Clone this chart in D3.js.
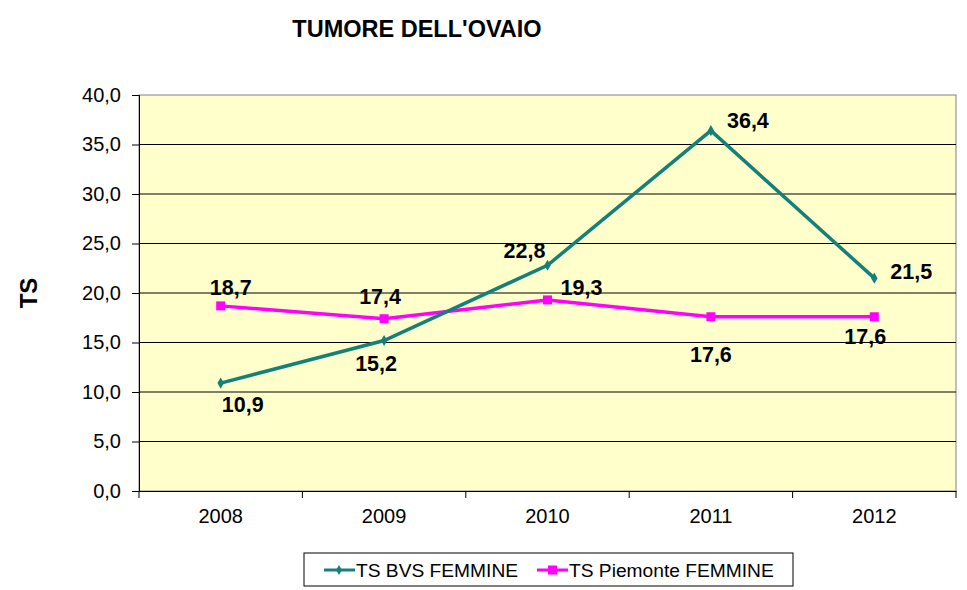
<!DOCTYPE html>
<html>
<head>
<meta charset="utf-8">
<script src="https://cdn.jsdelivr.net/npm/d3@7"></script>
<style>
  body { margin: 0; background: #fff; }
  text { font-family: Arial, "Liberation Sans", sans-serif; }
</style>
</head>
<body>
<svg width="967" height="590"></svg>
<script>
var years = ['2008', '2009', '2010', '2011', '2012'];
var bvs = [10.9, 15.2, 22.8, 36.4, 21.5];
var piemonte = [18.7, 17.4, 19.3, 17.6, 17.6];
var yTicks = [0, 5, 10, 15, 20, 25, 30, 35, 40];

// label offsets (dx, dy baseline) relative to each point, as in the original
var bvsOffsets = [[22, 29], [-8, 30], [-23, -7], [37, -3], [37, 1]];
var pieOffsets = [[10, -11], [-4, -15], [34, -5], [0, 45], [-9, 27]];

var svg = d3.select('svg');
var plotL = 139, plotR = 956, plotT = 95, plotB = 491;

var x = d3.scaleBand().domain(years).range([plotL, plotR]);
var y = d3.scaleLinear().domain([0, 40]).range([plotB, plotT]);
var fmt = function(v) { return v.toFixed(1).replace('.', ','); };
var font = 'Arial, Liberation Sans, sans-serif';

svg.append('rect')
  .attr('x', plotL).attr('y', plotT)
  .attr('width', plotR - plotL).attr('height', plotB - plotT)
  .attr('fill', '#ffffcc')
  .attr('stroke', '#808080');

// gridlines
svg.append('g').selectAll('line')
  .data(yTicks.slice(1, -1))
  .join('line')
  .attr('x1', plotL).attr('x2', plotR)
  .attr('y1', function(d) { return y(d); })
  .attr('y2', function(d) { return y(d); })
  .attr('stroke', '#000').attr('stroke-width', 1);

// y axis
var yAxis = svg.append('g')
  .attr('transform', 'translate(' + plotL + ',0)')
  .call(d3.axisLeft(y).tickValues(yTicks).tickFormat(fmt).tickSize(7).tickPadding(11));
yAxis.select('.domain').attr('stroke', '#000');
yAxis.selectAll('line').attr('stroke', '#000');
yAxis.selectAll('text').attr('font-size', 20).attr('fill', '#000').attr('font-family', font);

// x axis
var xAxis = svg.append('g')
  .attr('transform', 'translate(0,' + plotB + ')')
  .call(d3.axisBottom(x).tickSize(0).tickPadding(18));
xAxis.select('.domain').attr('stroke', '#000');
xAxis.selectAll('text').attr('font-size', 20).attr('fill', '#000').attr('font-family', font);
xAxis.selectAll('.bound')
  .data(years.concat(['end']))
  .join('line')
  .attr('class', 'bound')
  .attr('x1', function(d, i) { return plotL + i * x.bandwidth(); })
  .attr('x2', function(d, i) { return plotL + i * x.bandwidth(); })
  .attr('y1', 0).attr('y2', 7)
  .attr('stroke', '#000');

var cx = function(d, i) { return x(years[i]) + x.bandwidth() / 2; };
var line = d3.line().x(cx).y(function(d) { return y(d); });

var teal = '#14807a', pink = '#ff00ff';

svg.append('path').datum(piemonte)
  .attr('d', line).attr('fill', 'none')
  .attr('stroke', pink).attr('stroke-width', 3.5);
svg.append('g').selectAll('rect')
  .data(piemonte).join('rect')
  .attr('x', function(d, i) { return cx(d, i) - 4.5; })
  .attr('y', function(d) { return y(d) - 4.5; })
  .attr('width', 9).attr('height', 9)
  .attr('fill', pink);

svg.append('path').datum(bvs)
  .attr('d', line).attr('fill', 'none')
  .attr('stroke', teal).attr('stroke-width', 3.5);
svg.append('g').selectAll('path')
  .data(bvs).join('path')
  .attr('d', d3.symbol(d3.symbolDiamond, 36))
  .attr('transform', function(d, i) { return 'translate(' + cx(d, i) + ',' + y(d) + ')'; })
  .attr('fill', teal);

// data labels
function labels(data, offs) {
  svg.append('g').selectAll('text')
    .data(data).join('text')
    .attr('x', function(d, i) { return cx(d, i) + offs[i][0]; })
    .attr('y', function(d, i) { return y(d) + offs[i][1]; })
    .attr('text-anchor', 'middle')
    .attr('font-size', 21.5).attr('font-weight', 'bold')
    .text(fmt);
}
labels(bvs, bvsOffsets);
labels(piemonte, pieOffsets);

// title and axis title
svg.append('text')
  .attr('x', 417).attr('y', 37)
  .attr('text-anchor', 'middle')
  .attr('font-size', 23.5).attr('font-weight', 'bold')
  .text("TUMORE DELL'OVAIO");

svg.append('text')
  .attr('transform', 'translate(37,293) rotate(-90)')
  .attr('text-anchor', 'middle')
  .attr('font-size', 24).attr('font-weight', 'bold')
  .text('TS');

// legend
var lg = svg.append('g').attr('transform', 'translate(304,553)');
lg.append('rect').attr('width', 489).attr('height', 33)
  .attr('fill', '#fff').attr('stroke', '#000');
var items = [
  { name: 'TS BVS FEMMINE', color: teal, x: 20, marker: 'diamond' },
  { name: 'TS Piemonte FEMMINE', color: pink, x: 233, marker: 'square' }
];
items.forEach(function(it) {
  lg.append('line')
    .attr('x1', it.x).attr('x2', it.x + 31)
    .attr('y1', 17).attr('y2', 17)
    .attr('stroke', it.color).attr('stroke-width', 3);
  if (it.marker === 'diamond') {
    lg.append('path').attr('d', d3.symbol(d3.symbolDiamond, 30))
      .attr('transform', 'translate(' + (it.x + 15) + ',17)')
      .attr('fill', it.color);
  } else {
    lg.append('rect').attr('x', it.x + 11).attr('y', 12.5)
      .attr('width', 9).attr('height', 9).attr('fill', it.color);
  }
  lg.append('text')
    .attr('x', it.x + 32).attr('y', 24)
    .attr('font-size', 19.2)
    .text(it.name);
});
</script>
</body>
</html>
